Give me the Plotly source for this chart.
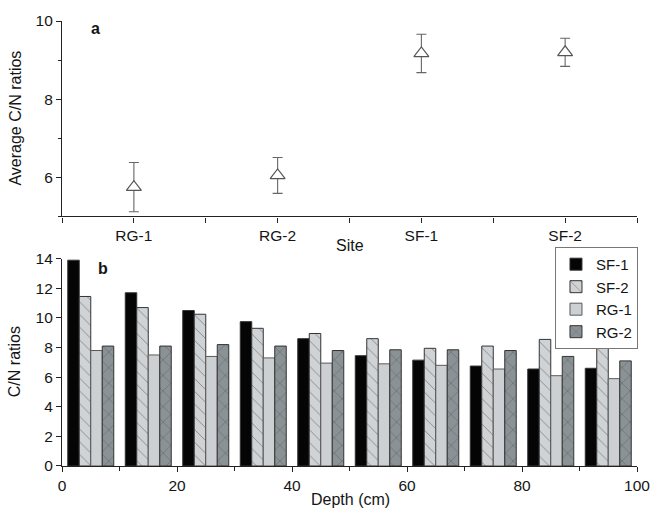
import plotly.graph_objects as go

# ---- Panel a data ----
sites = ["RG-1", "RG-2", "SF-1", "SF-2"]
site_mean = [5.75, 6.05, 9.17, 9.2]
site_err = [0.63, 0.46, 0.49, 0.36]

# ---- Panel b data ----
depth = [5, 15, 25, 35, 45, 55, 65, 75, 85, 95]
sf1 = [13.9, 11.7, 10.5, 9.75, 8.6, 7.45, 7.15, 6.75, 6.55, 6.6]
sf2 = [11.45, 10.7, 10.25, 9.3, 8.95, 8.6, 7.95, 8.1, 8.55, 8.8]
rg1 = [7.8, 7.5, 7.4, 7.3, 6.95, 6.9, 6.8, 6.55, 6.1, 5.9]
rg2 = [8.1, 8.1, 8.2, 8.1, 7.8, 7.85, 7.85, 7.8, 7.4, 7.1]

FONT = "Liberation Sans, Arial, sans-serif"
TXT = "#151515"
AX = "#222222"
FS = 16
TFS = 15.5

fig = go.Figure()

fig.add_trace(go.Scatter(
    x=list(range(len(sites))), y=site_mean, mode="markers",
    marker=dict(symbol="triangle-up", size=13, color="white",
                line=dict(color="#555555", width=1.2)),
    error_y=dict(type="data", array=site_err, visible=True,
                 color="#666666", thickness=1.1, width=5),
    xaxis="x", yaxis="y", showlegend=False))

bar_line = dict(color="#333333", width=1)
fig.add_trace(go.Bar(x=depth, y=sf1, name="SF-1", xaxis="x2", yaxis="y2",
                     marker=dict(color="#050505", line=bar_line)))
fig.add_trace(go.Bar(x=depth, y=sf2, name="SF-2", xaxis="x2", yaxis="y2",
                     marker=dict(color="#d0d3d6", line=bar_line,
                                 pattern=dict(shape="\\", bgcolor="#d0d3d6",
                                              fgcolor="#3a3a3a", size=9,
                                              solidity=0.1))))
fig.add_trace(go.Bar(x=depth, y=rg1, name="RG-1", xaxis="x2", yaxis="y2",
                     marker=dict(color="#cdd0d3",
                                 line=dict(color="#5a5a5a", width=1))))
fig.add_trace(go.Bar(x=depth, y=rg2, name="RG-2", xaxis="x2", yaxis="y2",
                     marker=dict(color="#8a9295", line=bar_line,
                                 pattern=dict(shape="x", bgcolor="#8a9295",
                                              fgcolor="#3a3a3a", size=11,
                                              solidity=0.1))))

axis_common = dict(showgrid=False, zeroline=False, showline=True,
                   linecolor=AX, linewidth=1.2, ticks="outside",
                   tickcolor=AX, tickwidth=1.1, ticklen=5,
                   tickfont=dict(family=FONT, size=TFS, color=TXT))

fig.update_layout(
    width=662, height=521,
    margin=dict(l=62, r=21, t=13, b=55),
    paper_bgcolor="white", plot_bgcolor="white",
    font=dict(family=FONT, color=TXT),
    barmode="group", bargap=0.2, bargroupgap=0,
    xaxis=dict(axis_common, anchor="y", domain=[0, 1], range=[-0.5, 3.5],
               tickvals=list(range(len(sites))), ticktext=sites,
               minor=dict(ticks="outside", tick0=0.5, dtick=1, ticklen=5,
                          tickcolor=AX, tickwidth=1.1)),
    yaxis=dict(axis_common, anchor="x", domain=[0.5607, 1], range=[5, 10],
               tickvals=[6, 8, 10],
               minor=dict(ticks="outside", tick0=5, dtick=1, ticklen=3,
                          tickcolor=AX, tickwidth=1.1)),
    xaxis2=dict(axis_common, anchor="y2", domain=[0, 1], range=[0, 100],
                dtick=20,
                minor=dict(ticks="outside", tick0=0, dtick=10, ticklen=4,
                           tickcolor=AX, tickwidth=1.1)),
    yaxis2=dict(axis_common, anchor="x2", domain=[0, 0.4658], range=[0, 14],
                dtick=2),
    legend=dict(x=1.0017, y=0.4923, xanchor="right", yanchor="top",
                bgcolor="white", bordercolor="#777777", borderwidth=1,
                font=dict(family=FONT, size=15, color=TXT),
                tracegroupgap=0, itemwidth=30),
    annotations=[
        dict(text="Average C/N ratios", xref="paper", yref="paper",
             x=-0.0812, y=0.7815, textangle=-90, showarrow=False,
             xanchor="center", yanchor="middle",
             font=dict(family=FONT, size=FS, color=TXT)),
        dict(text="C/N ratios", xref="paper", yref="paper",
             x=-0.0812, y=0.234, textangle=-90, showarrow=False,
             xanchor="center", yanchor="middle",
             font=dict(family=FONT, size=FS, color=TXT)),
        dict(text="Site", xref="paper", yref="paper",
             x=0.5009, y=0.4945, showarrow=False,
             xanchor="center", yanchor="middle",
             font=dict(family=FONT, size=FS, color=TXT)),
        dict(text="Depth (cm)", xref="paper", yref="paper",
             x=0.5009, y=-0.075, showarrow=False,
             xanchor="center", yanchor="middle",
             font=dict(family=FONT, size=FS, color=TXT)),
        dict(text="<b>a</b>", xref="paper", yref="paper",
             x=0.0587, y=0.9823, showarrow=False,
             xanchor="center", yanchor="middle",
             font=dict(family=FONT, size=FS, color=TXT)),
        dict(text="<b>b</b>", xref="paper", yref="paper",
             x=0.0708, y=0.4437, showarrow=False,
             xanchor="center", yanchor="middle",
             font=dict(family=FONT, size=FS, color=TXT)),
    ],
)

fig.write_html("out.html",
               config={"displayModeBar": False},
               post_script="document.body.style.margin='0';"
                           "document.body.style.overflow='hidden';")
